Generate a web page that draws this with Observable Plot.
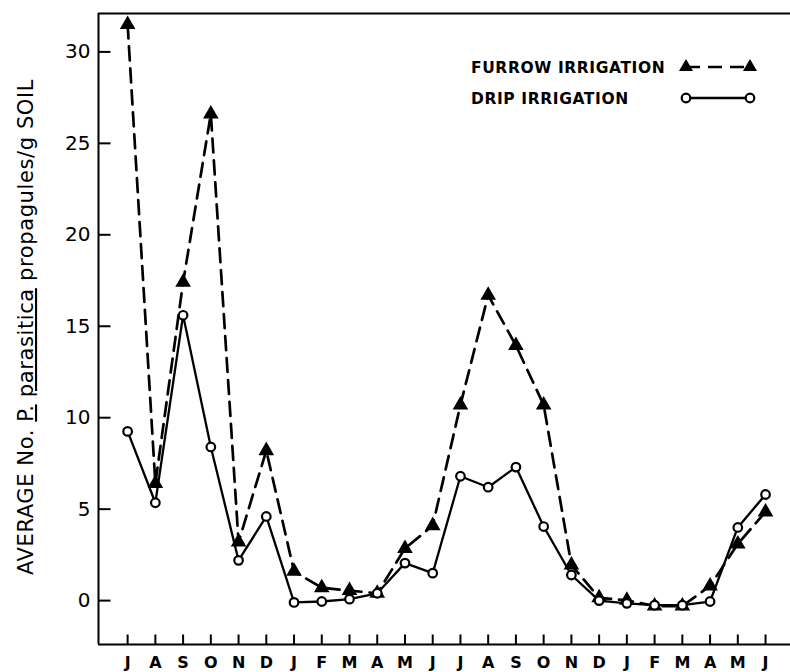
<!DOCTYPE html>
<html>
<head>
<meta charset="utf-8">
<script src="https://cdn.jsdelivr.net/npm/d3@7"></script>
<script src="https://cdn.jsdelivr.net/npm/@observablehq/plot@0.6"></script>
<style>
  html, body { margin: 0; padding: 0; background: #fff; }
  #chart svg { display: block; }
</style>
</head>
<body>
<div id="chart"></div>
<script>
// Month labels (July of year 1 through June of year 3)
const months = ["J","A","S","O","N","D","J","F","M","A","M","J","J","A","S","O","N","D","J","F","M","A","M","J"];
// Furrow irrigation (dashed line, filled triangles)
const furrow = [31.5, 6.4, 17.4, 26.6, 3.2, 8.2, 1.6, 0.7, 0.55, 0.4, 2.85, 4.1, 10.7, 16.7, 13.95, 10.7, 1.95, 0.15, 0.02, -0.3, -0.3, 0.8, 3.1, 4.85];
// Drip irrigation (solid line, open circles)
const drip = [9.25, 5.35, 15.6, 8.4, 2.2, 4.6, -0.1, -0.05, 0.08, 0.4, 2.05, 1.5, 6.8, 6.2, 7.3, 4.05, 1.4, 0.0, -0.15, -0.25, -0.25, -0.05, 4.0, 5.8];
const yTicks = [0, 5, 10, 15, 20, 25, 30];
const yDomain = [-2.4, 32.1];
const xDomain = [-1.05, 23.9];
const seriesNames = ["FURROW IRRIGATION", "DRIP IRRIGATION"];

const idx = months.map((_, i) => i);
const furrowData = idx.map(i => ({i, v: furrow[i]}));
const dripData = idx.map(i => ({i, v: drip[i]}));

const font = "DejaVu Sans, Liberation Sans, sans-serif";

// custom tick-mark symbols: inward from the left axis and up from the bottom axis
const tickRight = {draw(ctx) { ctx.moveTo(0, 0); ctx.lineTo(12, 0); }};
const tickUp = {draw(ctx) { ctx.moveTo(0, 0); ctx.lineTo(0, -10); }};

const chart = Plot.plot({
  width: 790,
  height: 672,
  marginLeft: 98,
  marginRight: 0,
  marginTop: 13,
  marginBottom: 28,
  style: {fontFamily: font, background: "#fff", color: "#000"},
  x: {domain: xDomain, axis: null},
  y: {domain: yDomain, axis: null},
  marks: [
    Plot.ruleY(yDomain, {stroke: "#000", strokeWidth: 2}),
    Plot.ruleX([xDomain[0]], {stroke: "#000", strokeWidth: 2}),
    // inward tick marks
    Plot.dot(yTicks, {x: () => xDomain[0], y: d => d, symbol: tickRight, fill: "none", stroke: "#000", strokeWidth: 2}),
    Plot.dot(idx, {x: d => d, y: () => yDomain[0], symbol: tickUp, fill: "none", stroke: "#000", strokeWidth: 2}),
    // tick labels
    Plot.axisY({ticks: yTicks, tickSize: 0, tickPadding: 8, fontSize: 20, label: null, tickFormat: d => String(d)}),
    Plot.axisX({ticks: idx, tickSize: 0, tickPadding: 12, fontSize: 16, fontWeight: "bold", label: null, tickFormat: i => months[i]}),
    Plot.line(furrowData, {x: "i", y: "v", stroke: "#000", strokeWidth: 2.7, strokeDasharray: "14,8"}),
    Plot.line(dripData, {x: "i", y: "v", stroke: "#000", strokeWidth: 2.3}),
    Plot.dot(furrowData, {x: "i", y: "v", symbol: "triangle", r: 5.8, fill: "#000", stroke: "none"}),
    Plot.dot(dripData, {x: "i", y: "v", r: 4.3, fill: "#fff", stroke: "#000", strokeWidth: 2.2})
  ]
});

document.getElementById("chart").appendChild(chart);

// Axis title with underlined species name
const svg = d3.select(chart);
const title = svg.append("text")
  .attr("transform", "translate(33,327) rotate(-90)")
  .attr("text-anchor", "middle")
  .attr("font-family", font)
  .attr("font-size", 21)
  .attr("letter-spacing", 0.6)
  .attr("fill", "#000");
title.append("tspan").text("AVERAGE No. ");
title.append("tspan").attr("text-decoration", "underline").text("P.");
title.append("tspan").text(" ");
title.append("tspan").attr("text-decoration", "underline").text("parasitica");
title.append("tspan").text(" propagules/g SOIL");

// Legend
const legend = svg.append("g").attr("font-family", font).attr("font-size", 15.5).attr("font-weight", "bold").attr("text-anchor", "start");
const rows = [{y: 67, name: seriesNames[0], type: "furrow"}, {y: 98, name: seriesNames[1], type: "drip"}];
rows.forEach(r => {
  legend.append("text").attr("x", 471).attr("y", r.y).attr("dy", "0.36em").attr("letter-spacing", 0.6).text(r.name);
  if (r.type === "furrow") {
    legend.append("line").attr("x1", 686).attr("x2", 750).attr("y1", r.y).attr("y2", r.y)
      .attr("stroke", "#000").attr("stroke-width", 2.7).attr("stroke-dasharray", "14,8");
    [686, 750].forEach(x => legend.append("path")
      .attr("d", d3.symbol(d3.symbolTriangle, Math.PI * 5.2 * 5.2)())
      .attr("transform", `translate(${x},${r.y})`).attr("fill", "#000"));
  } else {
    legend.append("line").attr("x1", 686).attr("x2", 750).attr("y1", r.y).attr("y2", r.y)
      .attr("stroke", "#000").attr("stroke-width", 2.3);
    [686, 750].forEach(x => legend.append("circle").attr("cx", x).attr("cy", r.y).attr("r", 4.3)
      .attr("fill", "#fff").attr("stroke", "#000").attr("stroke-width", 2.2));
  }
});
</script>
</body>
</html>
